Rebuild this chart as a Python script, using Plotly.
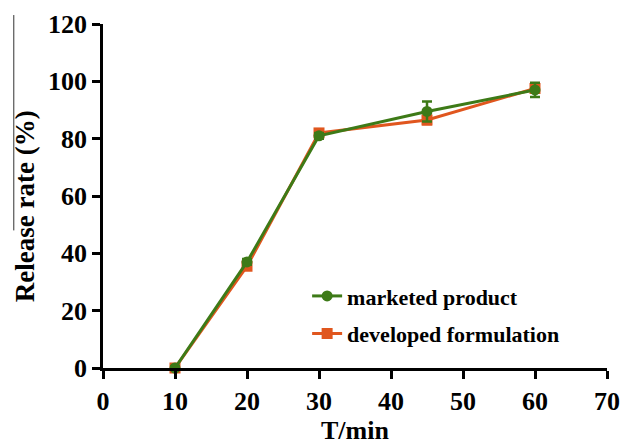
import plotly.graph_objects as go

time_min = [10, 20, 30, 45, 60]
marketed = [0, 37, 81, 89.5, 97]
marketed_err = [0.5, 1.0, 1.0, 3.5, 2.5]
developed = [0, 35.5, 82, 86.5, 97.5]
developed_err = [0.5, 1.0, 1.0, 1.5, 1.5]

x_ticks = [0, 10, 20, 30, 40, 50, 60, 70]
y_ticks = [0, 20, 40, 60, 80, 100, 120]

green = "#3d7a17"
orange = "#e0561e"
font_family = "Liberation Serif, Times New Roman, serif"

fig = go.Figure()
fig.add_trace(go.Scatter(
    x=time_min, y=developed, name="<b>developed formulation</b>",
    mode="lines+markers", line=dict(color=orange, width=3),
    marker=dict(symbol="square", size=11, color=orange),
    error_y=dict(type="data", array=developed_err, color=orange, thickness=2.5, width=5),
    cliponaxis=False, legendrank=2, legendgroup="d",
))
fig.add_trace(go.Scatter(
    x=time_min, y=marketed, name="<b>marketed product</b>",
    mode="lines+markers", line=dict(color=green, width=3),
    marker=dict(symbol="circle", size=11, color=green),
    error_y=dict(type="data", array=marketed_err, color=green, thickness=2.5, width=5),
    cliponaxis=False, legendrank=1, legendgroup="m",
))

axis_common = dict(
    showline=True, linecolor="black", linewidth=2.5,
    ticks="outside", ticklen=8, tickwidth=2.5, tickcolor="black",
    showgrid=False, zeroline=False, automargin=False,
    tickfont=dict(family=font_family, size=26, color="black"),
)

fig.update_layout(
    width=622, height=446,
    margin=dict(l=103, r=15, t=24, b=78),
    plot_bgcolor="white", paper_bgcolor="white",
    font=dict(family=font_family, color="black"),
    xaxis=dict(range=[0, 70], tickvals=x_ticks, ticktext=[f"<b>{v}</b>" for v in x_ticks],
               title=dict(text="<b>T/min</b>", font=dict(family=font_family, size=26), standoff=6),
               **axis_common),
    yaxis=dict(range=[0, 120], tickvals=y_ticks, ticktext=[f"<b>{v}</b>" for v in y_ticks],
               **axis_common),
    legend=dict(x=0.405, y=0.27, xanchor="left", yanchor="top",
                bgcolor="rgba(0,0,0,0)", itemwidth=30,
                font=dict(family=font_family, size=22, color="black"),
                tracegroupgap=6),
    showlegend=True,
)

# y-axis title placed as rotated annotation (slightly below plot centre as in reference)
fig.add_annotation(text="<b>Release rate (%)</b>", textangle=-90,
                   xref="paper", yref="paper", x=-0.155, y=0.47,
                   xanchor="center", yanchor="middle", showarrow=False,
                   font=dict(family=font_family, size=27, color="black"))

fig.add_shape(type="line", xref="paper", yref="paper",
              x0=-0.177, x1=-0.177, y0=1.026, y1=0.40,
              line=dict(color="#333333", width=1))

fig.write_html("out.html", config={"displayModeBar": False},
               post_script="document.body.style.margin='0';document.body.style.overflow='hidden';")
